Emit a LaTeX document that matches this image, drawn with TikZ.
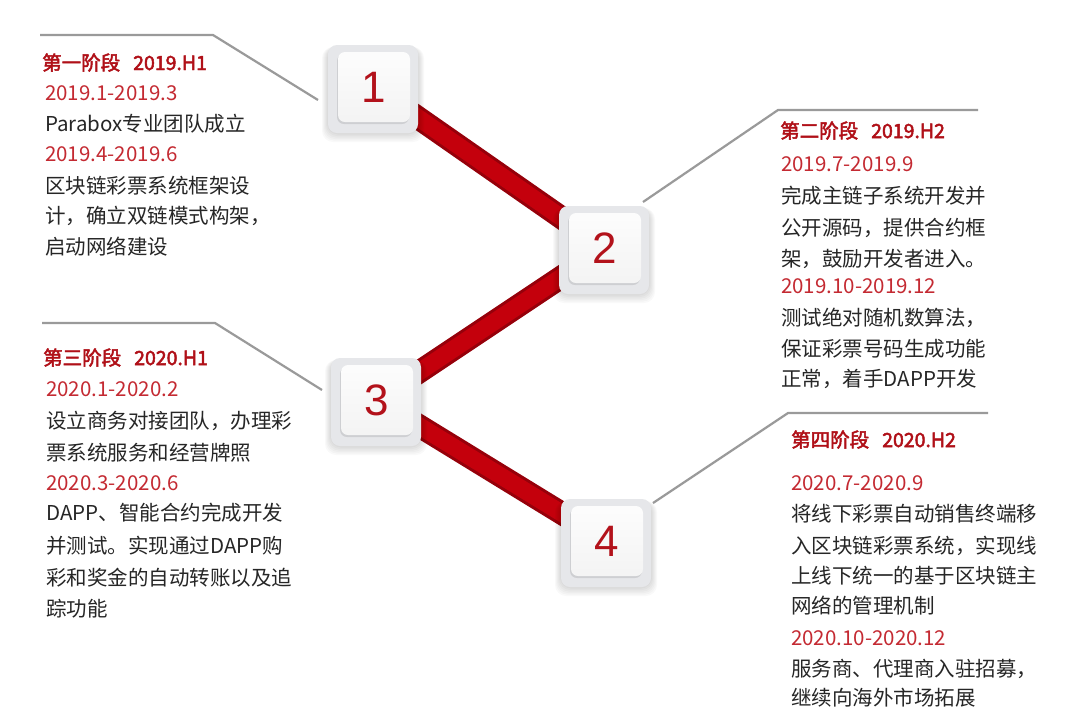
\documentclass[tikz,border=0pt]{standalone}
\usepackage{fontspec}
\newfontfamily\cjk{Noto Sans CJK SC}[AutoFakeBold=2.5]
\newfontfamily\numfont{Liberation Sans}
\usetikzlibrary{shadows}
\definecolor{titlered}{HTML}{B01018}
\definecolor{datered}{HTML}{C42A32}
\definecolor{bodytxt}{HTML}{262626}
\definecolor{banddark}{HTML}{96000A}
\definecolor{bandred}{HTML}{C4000C}
\definecolor{linegray}{HTML}{9A9A9A}
\definecolor{platecol}{HTML}{E6E7EA}
\definecolor{numred}{HTML}{B3121B}
\tikzset{
  grayline/.style={draw=linegray, line width=2.2pt},
  bandouter/.style={draw=banddark, line width=23pt},
  bandmid/.style={draw=bandred, line width=17pt},
  numbox/.style={minimum width=72pt, minimum height=70pt, rounded corners=7pt,
    top color=white!98!gray, bottom color=white!91!gray, draw=none,
    drop shadow={shadow xshift=-1pt, shadow yshift=-2pt, opacity=0.10, fill=black},
    font=\numfont\fontsize{44}{44}\selectfont, text=numred, inner sep=0pt},
  txt/.style={anchor=base west, inner sep=0pt, font=\cjk\fontsize{20.5}{24}\selectfont, text=bodytxt},
  datetxt/.style={txt, text=datered},
  titletxt/.style={txt, text=titlered, font=\cjk\bfseries\fontsize{19.5}{24}\selectfont},
}
\newcommand{\tgap}{\hspace{13pt}}
\begin{document}
\begin{tikzpicture}[x=1pt,y=-1pt]
\useasboundingbox (0,0) rectangle (1080,724);
\fill[white] (0,0) rectangle (1080,724);
% box centres
\coordinate (c1) at (374,87);
\coordinate (c2) at (605,248);
\coordinate (c3) at (377,400);
\coordinate (c4) at (607,541);
% gray leader lines
\coordinate (g1a) at (40,35);  \coordinate (g1b) at (213,35);  \coordinate (g1c) at (318,100);
\coordinate (g2a) at (643,202); \coordinate (g2b) at (778,110); \coordinate (g2c) at (978,110);
\coordinate (g3a) at (42,323); \coordinate (g3b) at (215,323); \coordinate (g3c) at (322,390);
\coordinate (g4a) at (653,503); \coordinate (g4b) at (788,413); \coordinate (g4c) at (988,413);
\draw[grayline] (g1a) -- (g1b) -- (g1c);
\draw[grayline] (g2a) -- (g2b) -- (g2c);
\draw[grayline] (g3a) -- (g3b) -- (g3c);
\draw[grayline] (g4a) -- (g4b) -- (g4c);
% red ribbon
\foreach \a/\b in {c1/c2,c2/c3,c3/c4}{
  \draw[bandouter] (\a) -- (\b);
  \draw[bandmid] (\a) -- (\b);
}
% plates with soft shadows
\foreach \c in {c1,c2,c3,c4}{
  \foreach \i in {1,...,6}{
    \fill[black, opacity=0.022, rounded corners=11pt]
      ([shift={(-46-\i,-40)}]\c) rectangle ([shift={(44+\i,46+1.5*\i)}]\c);
  }
  \fill[platecol, rounded corners=9pt] ([shift={(-46,-42)}]\c) rectangle ([shift={(44,46)}]\c);
}
\node[numbox] (b1) at (c1) {1};
\node[numbox] (b2) at (c2) {2};
\node[numbox] (b3) at (c3) {3};
\node[numbox] (b4) at (c4) {4};
% stage 1
\node[titletxt] (t1a) at (42,70) {第一阶段\tgap 2019.H1};
\node[datetxt] (t1b) at (45,100) {2019.1-2019.3};
\node[txt] (t1c) at (45,131) {Parabox专业团队成立};
\node[datetxt] (t1d) at (45,161) {2019.4-2019.6};
\node[txt] (t1e) at (45,193) {区块链彩票系统框架设};
\node[txt] (t1f) at (45,223) {计，确立双链模式构架，};
\node[txt] (t1g) at (45,254) {启动网络建设};
% stage 2
\node[titletxt] (t2a) at (780,138) {第二阶段\tgap 2019.H2};
\node[datetxt] (t2b) at (781,171) {2019.7-2019.9};
\node[txt] (t2c) at (781,203) {完成主链子系统开发并};
\node[txt] (t2d) at (781,235) {公开源码，提供合约框};
\node[txt] (t2e) at (781,266) {架，鼓励开发者进入。};
\node[datetxt] (t2f) at (781,293) {2019.10-2019.12};
\node[txt] (t2g) at (781,325) {测试绝对随机数算法，};
\node[txt] (t2h) at (781,356) {保证彩票号码生成功能};
\node[txt] (t2i) at (781,386) {正常，着手DAPP开发};
% stage 3
\node[titletxt] (t3a) at (43,365) {第三阶段\tgap 2020.H1};
\node[datetxt] (t3b) at (46,396) {2020.1-2020.2};
\node[txt] (t3c) at (46,428) {设立商务对接团队，办理彩};
\node[txt] (t3d) at (46,460) {票系统服务和经营牌照};
\node[datetxt] (t3e) at (46,490) {2020.3-2020.6};
\node[txt] (t3f) at (46,520) {DAPP、智能合约完成开发};
\node[txt] (t3g) at (46,553) {并测试。实现通过DAPP购};
\node[txt] (t3h) at (46,585) {彩和奖金的自动转账以及追};
\node[txt] (t3i) at (46,616) {踪功能};
% stage 4
\node[titletxt] (t4a) at (791,447) {第四阶段\tgap 2020.H2};
\node[datetxt] (t4b) at (791,490) {2020.7-2020.9};
\node[txt] (t4c) at (791,521) {将线下彩票自动销售终端移};
\node[txt] (t4d) at (791,553) {入区块链彩票系统，实现线};
\node[txt] (t4e) at (791,583) {上线下统一的基于区块链主};
\node[txt] (t4f) at (791,613) {网络的管理机制};
\node[datetxt] (t4g) at (791,645) {2020.10-2020.12};
\node[txt] (t4h) at (791,676) {服务商、代理商入驻招募，};
\node[txt] (t4i) at (791,705) {继续向海外市场拓展};
\end{tikzpicture}
\end{document}
